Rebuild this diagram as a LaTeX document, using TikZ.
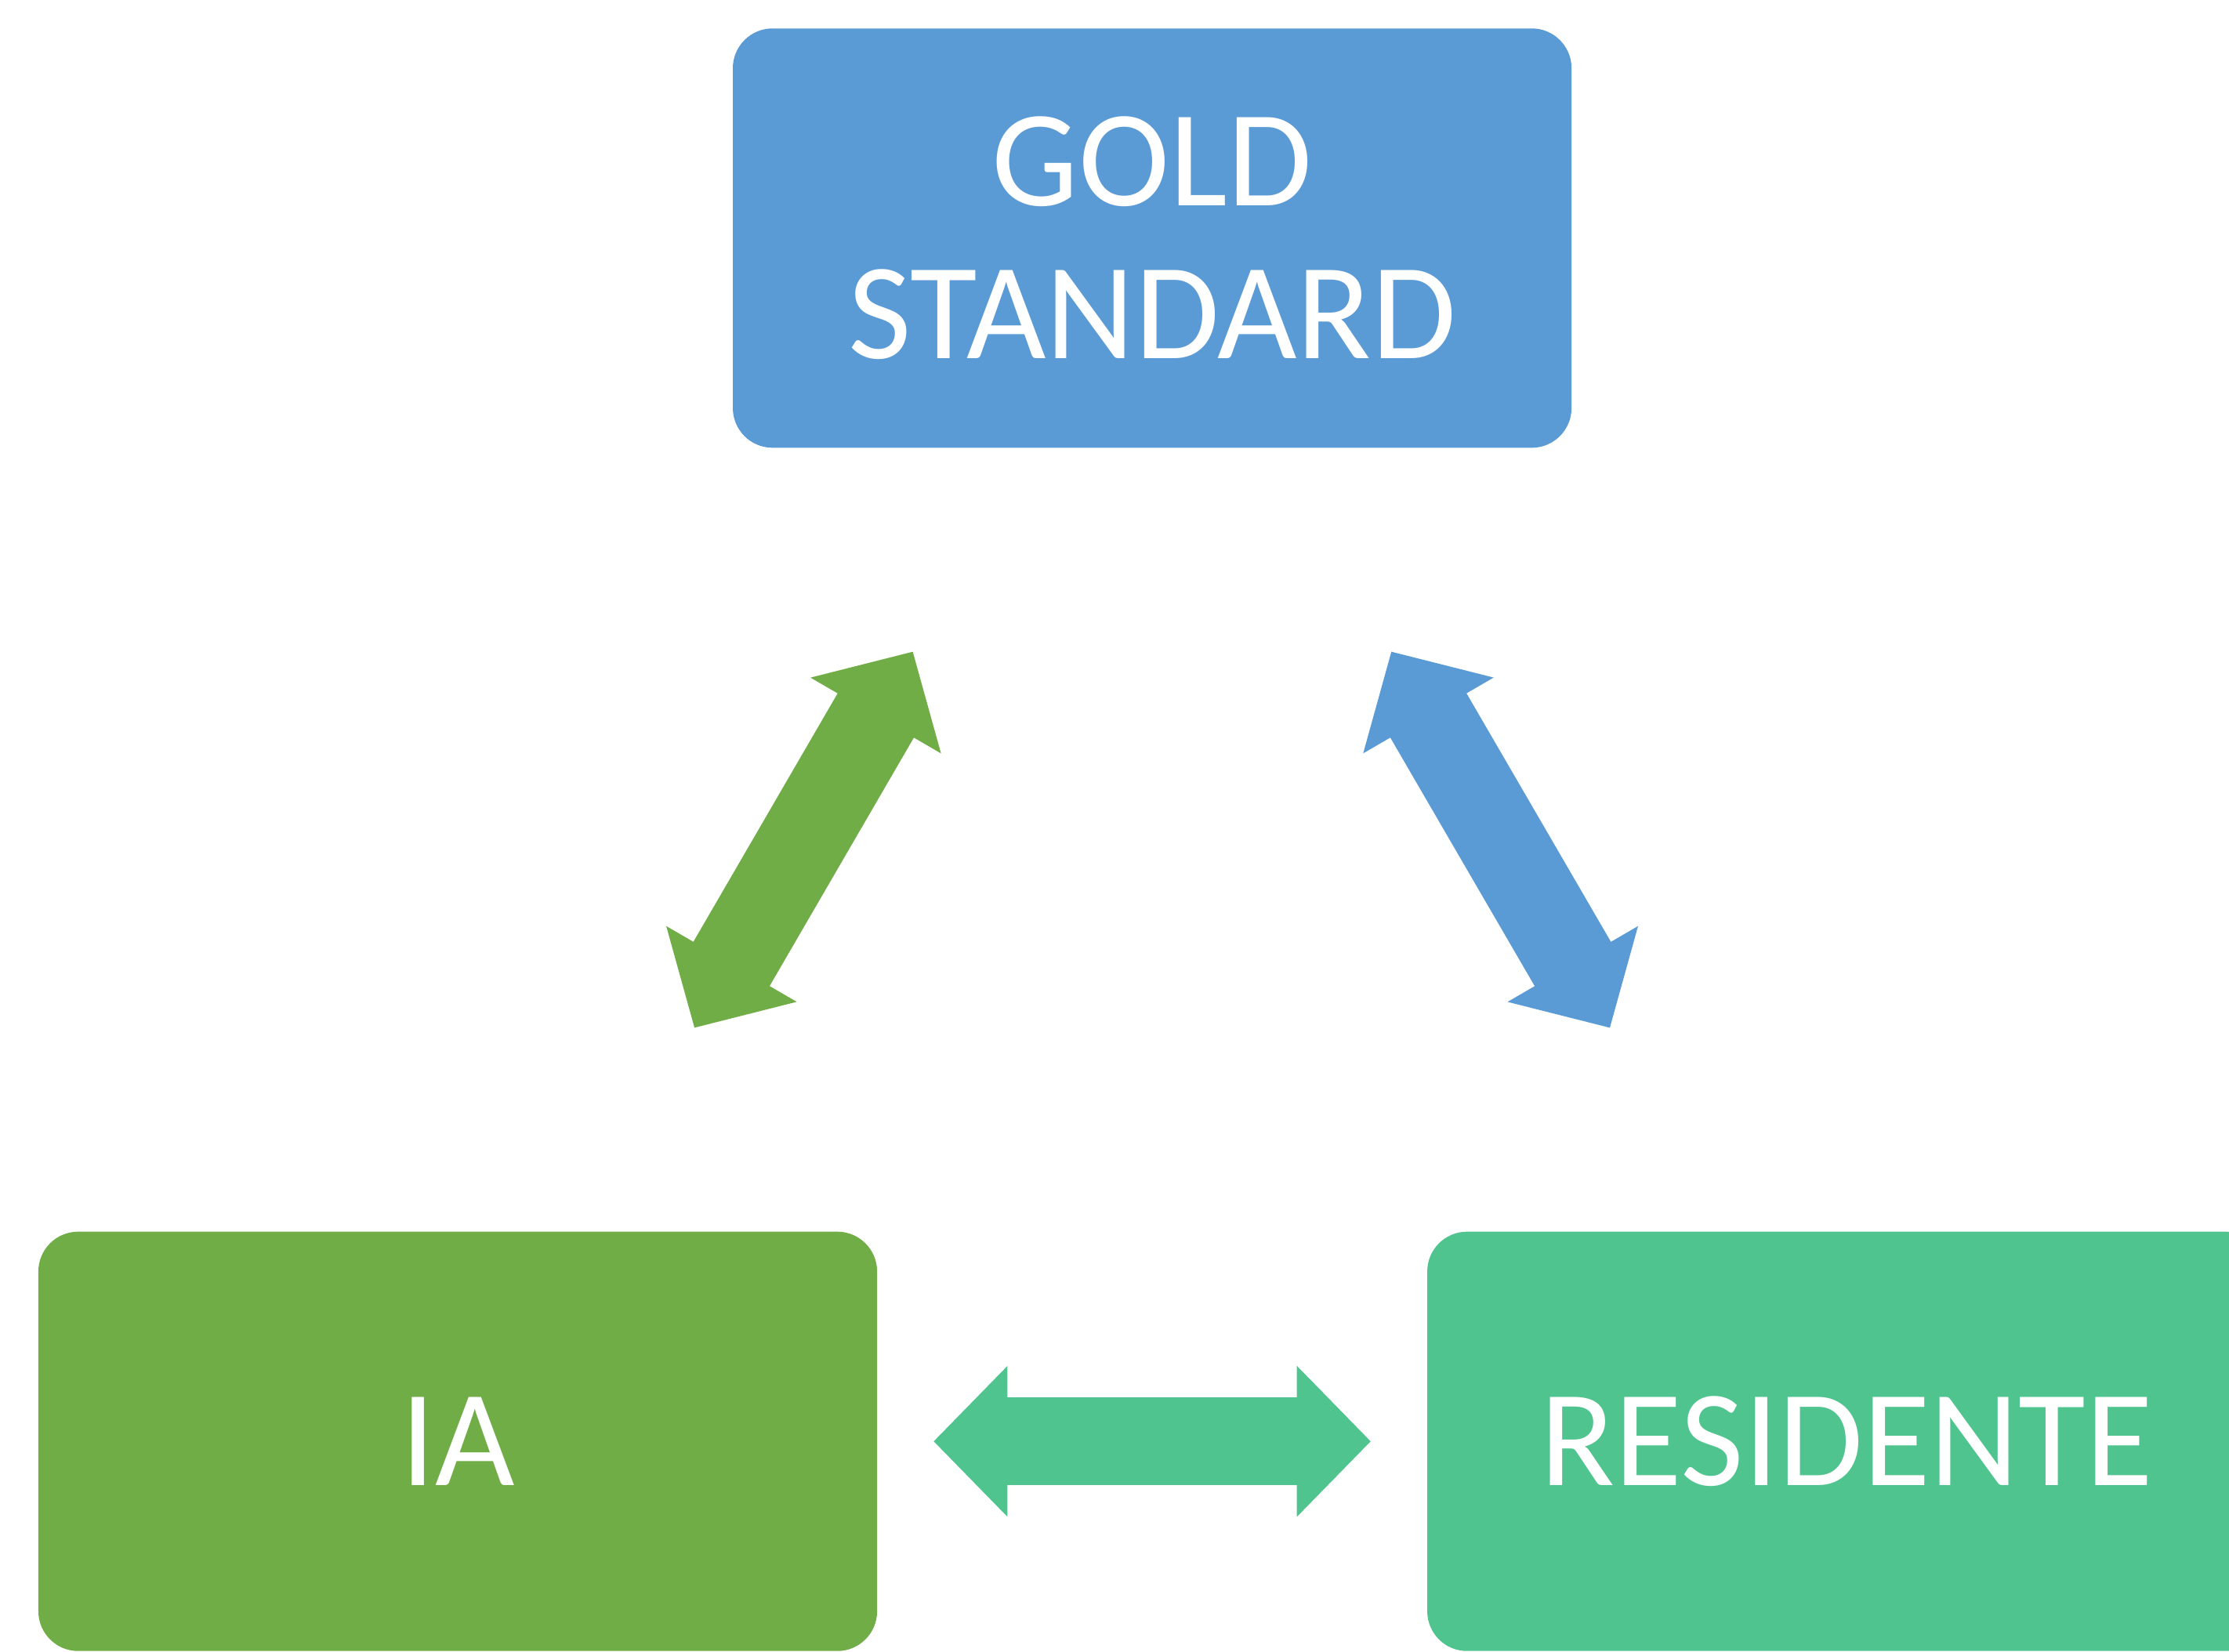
\documentclass[tikz,border=0pt]{standalone}
\usepackage{fontspec}
\setmainfont{Carlito}
\usepackage{tikz}
\usetikzlibrary{arrows.meta, positioning}

\definecolor{goldblue}{HTML}{5B9BD5}
\definecolor{iagreen}{HTML}{70AD47}
\definecolor{resgreen}{HTML}{50C48E}

\begin{document}
\begin{tikzpicture}[
    box/.style={rectangle, rounded corners=0.28cm, inner sep=0pt,
                minimum width=5.9cm, minimum height=2.95cm, align=center,
                text=white, font=\fontsize{27.5}{30.5}\selectfont},
    bigarrow/.style={line width=0.62cm,
                     {Triangle[length=0.52cm,width=1.03cm]}-{Triangle[length=0.52cm,width=1.03cm]}},
]
\useasboundingbox (0,0) rectangle (15.68,11.62);
\clip (0,0) rectangle (15.68,11.62);
% boxes
\node[box, fill=goldblue] (gold) at (8.105,9.945) {GOLD\\STANDARD};
\node[box, fill=iagreen]  (ia)   at (3.22,1.48)   {IA};
\node[box, fill=resgreen] (res)  at (12.99,1.48)  {RESIDENTE};

% double arrows
\draw[bigarrow, iagreen, shorten <=1.65cm, shorten >=1.65cm]
    ([xshift=0.836cm]ia.north) -- ([xshift=-0.855cm]gold.south);
\draw[bigarrow, goldblue, shorten <=1.65cm, shorten >=1.65cm]
    ([xshift=0.853cm]gold.south) -- ([xshift=-0.836cm]res.north);
\draw[bigarrow, resgreen, shorten <=0.39cm, shorten >=0.39cm]
    (ia.east) -- (res.west);
\end{tikzpicture}
\end{document}
